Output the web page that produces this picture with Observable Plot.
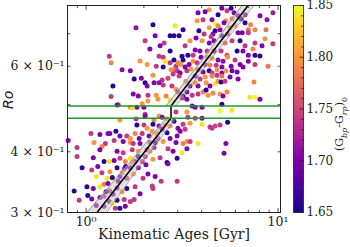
<!DOCTYPE html>
<html><head><meta charset="utf-8">
<script src="https://cdn.jsdelivr.net/npm/d3@7"></script>
<script src="https://cdn.jsdelivr.net/npm/@observablehq/plot@0.6"></script>
<style>
body{margin:0;background:#fff;}
#wrap{position:relative;width:350px;height:247px;overflow:hidden;}
#wrap svg{position:absolute;top:0;}
#cbtitle{position:absolute;left:341px;top:124px;transform:translate(-50%,-50%) rotate(-90deg);white-space:nowrap;font-family:"DejaVu Serif";font-size:11px;color:#222;}
#cbtitle sub{font-size:8px;}
</style></head><body><div id="wrap"><div id="cbtitle">(G<sub><i>bp</i></sub>-G<sub><i>rp</i></sub>)<sub>0</sub></div></div>
<script>
// Kinematic ages [Gyr]
const ages = [
4.38,5.10,5.42,5.70,6.19,6.73,8.05,8.76,9.40,3.83,
4.17,3.79,4.07,4.53,4.87,5.35,5.76,1.82,2.23,2.91,
3.20,3.87,4.12,4.70,4.38,4.99,5.62,5.97,6.73,7.20,
7.00,7.58,8.65,4.58,5.10,5.46,6.19,6.50,7.00,2.74,
2.87,3.05,2.55,4.02,4.38,4.64,5.29,5.76,6.34,6.73,
7.40,7.58,8.25,9.40,8.55,3.70,4.27,4.64,5.05,5.42,
6.12,6.57,7.00,7.58,8.05,1.32,2.40,2.52,2.58,2.74,
2.87,3.16,3.20,3.61,3.61,3.79,3.97,4.27,1.35,4.53,
4.87,5.17,5.46,5.97,6.34,7.00,7.58,8.87,2.08,2.32,
2.52,2.94,3.12,3.44,3.52,4.17,4.42,4.76,5.10,5.70,
6.57,1.54,2.77,2.87,2.98,3.09,3.35,3.83,4.07,4.38,
4.53,4.81,5.10,5.35,5.76,6.12,1.78,1.94,2.23,2.49,
2.67,2.84,3.05,3.31,3.70,4.17,4.53,4.81,5.10,5.62,
6.19,7.49,2.03,2.08,2.26,2.40,2.52,2.80,2.94,3.48,
3.83,4.22,4.42,4.70,4.87,5.05,5.29,1.38,1.35,1.76,
1.87,2.10,2.32,2.61,3.01,3.20,3.35,3.83,4.07,4.32,
4.58,4.99,4.22,5.17,5.42,7.14,7.58,8.05,1.47,2.74,
3.16,3.35,3.57,3.70,4.02,2.03,2.94,3.35,1.45,1.70,
1.84,2.00,1.74,1.96,2.10,2.37,3.57,5.10,4.99,5.76,
1.50,1.82,2.03,2.26,2.40,2.64,2.49,3.39,3.70,4.02,
5.46,4.02,3.01,3.20,3.48,4.42,4.53,4.70,4.99,1.84,
2.00,2.08,2.23,2.40,2.58,1.06,1.33,1.43,1.50,1.63,
1.70,1.80,1.89,1.96,2.13,2.34,2.64,3.20,3.35,3.48,
1.18,1.30,1.10,1.26,1.21,1.40,1.56,1.70,1.76,1.91,
2.15,2.52,2.74,2.98,3.83,5.35,5.23,3.35,3.16,0.806,
0.897,1.18,1.45,1.56,1.74,1.87,2.08,2.26,2.67,2.84,
0.897,1.09,1.32,1.40,1.50,1.60,1.70,1.80,2.03,2.23,
2.43,2.64,2.98,2.67,0.953,1.07,1.21,1.33,1.45,1.58,
1.70,1.87,2.10,1.29,1.38,1.50,1.63,1.76,1.98,2.29,
2.21,2.46,2.98,0.866,1.01,1.09,1.18,1.24,1.33,1.45,
1.54,1.63,1.80,1.91,2.23,0.92,1.02,1.07,1.18,1.24,
1.32,1.45,1.58,1.78,1.13,1.24,1.42,1.50,1.60,1.70,
1.37,1.30,1.37,1.47,1.54,1.61,1.74,1.87,1.96,2.05,
2.15,2.29,2.37,2.21,2.49,2.74,2.87,3.09,3.28,2.94,
1.24,1.15,1.13,1.27,1.38,3.28,3.48,3.74,3.39,3.92,
4.87,5.23,4.70,4.48,5.90,6.42,3.92,3.70,3.28,3.01,
2.74,2.43,2.15,2.03,2.29,1.91,1.70];
// Rossby numbers
const ros = [
0.784,0.79,0.78,0.79,0.762,0.766,0.762,0.748,0.773,0.773,
0.777,0.744,0.748,0.748,0.766,0.744,0.751,0.72,0.73,0.727,
0.713,0.71,0.699,0.734,0.72,0.713,0.72,0.727,0.737,0.73,
0.713,0.713,0.713,0.699,0.693,0.699,0.703,0.703,0.703,0.693,
0.693,0.693,0.67,0.677,0.67,0.677,0.67,0.677,0.677,0.661,
0.651,0.67,0.661,0.667,0.683,0.648,0.645,0.645,0.645,0.632,
0.645,0.645,0.632,0.632,0.63,0.629,0.629,0.626,0.614,0.61,
0.618,0.629,0.618,0.632,0.614,0.61,0.626,0.626,0.61,0.623,
0.618,0.614,0.626,0.618,0.605,0.614,0.605,0.60,0.605,0.60,
0.598,0.60,0.605,0.605,0.592,0.605,0.603,0.603,0.598,0.60,
0.598,0.59,0.59,0.59,0.587,0.581,0.587,0.59,0.584,0.587,
0.581,0.59,0.581,0.587,0.587,0.584,0.565,0.567,0.575,0.562,
0.567,0.578,0.573,0.559,0.573,0.57,0.573,0.575,0.573,0.57,
0.565,0.557,0.555,0.546,0.555,0.555,0.549,0.546,0.538,0.546,
0.546,0.555,0.546,0.552,0.559,0.557,0.559,0.546,0.52,0.526,
0.521,0.523,0.523,0.521,0.531,0.521,0.531,0.526,0.531,0.523,
0.528,0.526,0.536,0.521,0.531,0.518,0.518,0.513,0.50,0.511,
0.516,0.513,0.497,0.494,0.494,0.478,0.483,0.483,0.499,0.494,
0.494,0.494,0.492,0.502,0.509,0.513,0.523,0.501,0.485,0.487,
0.465,0.467,0.474,0.465,0.474,0.467,0.471,0.471,0.469,0.469,
0.46,0.456,0.447,0.456,0.458,0.45,0.447,0.452,0.454,0.454,
0.454,0.447,0.456,0.452,0.454,0.436,0.436,0.441,0.431,0.431,
0.426,0.436,0.426,0.436,0.431,0.436,0.438,0.416,0.42,0.42,
0.434,0.436,0.418,0.416,0.41,0.422,0.42,0.418,0.416,0.416,
0.418,0.42,0.426,0.431,0.416,0.416,0.397,0.406,0.398,0.422,
0.408,0.404,0.401,0.398,0.404,0.401,0.404,0.408,0.406,0.401,
0.391,0.389,0.382,0.384,0.388,0.382,0.388,0.382,0.391,0.386,
0.389,0.38,0.388,0.378,0.371,0.367,0.362,0.364,0.371,0.369,
0.371,0.371,0.36,0.353,0.352,0.356,0.353,0.36,0.353,0.356,
0.34,0.348,0.348,0.332,0.339,0.336,0.339,0.343,0.332,0.337,
0.331,0.336,0.339,0.328,0.336,0.318,0.325,0.32,0.322,0.324,
0.316,0.318,0.319,0.319,0.31,0.309,0.306,0.306,0.309,0.316,
0.313,0.344,0.354,0.348,0.362,0.373,0.38,0.391,0.382,0.376,
0.401,0.418,0.426,0.441,0.445,0.452,0.462,0.441,0.445,0.418,
0.382,0.373,0.356,0.331,0.327,0.661,0.677,0.686,0.632,0.645,
0.727,0.737,0.71,0.69,0.773,0.751,0.565,0.555,0.598,0.61,
0.645,0.661,0.651,0.677,0.693,0.615,0.587];
// (G_bp - G_rp)_0 colours
const colors = [
1.80,1.70,1.74,1.66,1.70,1.71,1.70,1.71,1.72,1.70,
1.69,1.80,1.74,1.70,1.66,1.80,1.79,1.71,1.66,1.84,
1.66,1.66,1.74,1.85,1.80,1.70,1.79,1.80,1.66,1.79,
1.78,1.79,1.78,1.71,1.69,1.74,1.70,1.70,1.74,1.66,
1.66,1.66,1.74,1.80,1.70,1.70,1.78,1.74,1.66,1.74,
1.79,1.74,1.70,1.74,1.80,1.70,1.74,1.71,1.74,1.75,
1.66,1.70,1.70,1.66,1.66,1.74,1.74,1.74,1.84,1.74,
1.66,1.66,1.66,1.74,1.80,1.74,1.70,1.79,1.79,1.80,
1.70,1.71,1.80,1.74,1.70,1.70,1.74,1.78,1.80,1.74,
1.66,1.74,1.80,1.70,1.80,1.74,1.79,1.74,1.70,1.70,
1.70,1.71,1.80,1.79,1.74,1.70,1.74,1.75,1.70,1.66,
1.74,1.80,1.70,1.80,1.69,1.70,1.66,1.70,1.80,1.74,
1.75,1.74,1.74,1.79,1.70,1.80,1.79,1.74,1.78,1.70,
1.70,1.79,1.66,1.70,1.70,1.71,1.74,1.74,1.80,1.70,
1.70,1.80,1.70,1.84,1.80,1.66,1.74,1.66,1.74,1.70,
1.70,1.74,1.80,1.79,1.74,1.66,1.70,1.74,1.79,1.80,
1.79,1.80,1.66,1.70,1.79,1.84,1.85,1.70,1.74,1.84,
1.74,1.70,1.70,1.70,1.70,1.74,1.74,1.80,1.70,1.80,
1.70,1.70,1.84,1.80,1.80,1.80,1.74,1.66,1.85,1.84,
1.80,1.74,1.70,1.79,1.80,1.79,1.70,1.74,1.74,1.70,
1.66,1.84,1.70,1.74,1.80,1.74,1.74,1.75,1.74,1.66,
1.74,1.80,1.66,1.70,1.80,1.74,1.70,1.66,1.70,1.74,
1.80,1.79,1.70,1.74,1.70,1.79,1.66,1.79,1.80,1.74,
1.70,1.70,1.80,1.74,1.79,1.74,1.70,1.80,1.74,1.70,
1.74,1.80,1.70,1.70,1.84,1.70,1.70,1.70,1.84,1.70,
1.74,1.70,1.70,1.74,1.74,1.80,1.70,1.74,1.74,1.70,
1.74,1.70,1.84,1.70,1.74,1.79,1.84,1.70,1.74,1.80,
1.74,1.66,1.66,1.70,1.66,1.74,1.74,1.80,1.66,1.74,
1.70,1.70,1.70,1.84,1.85,1.70,1.74,1.80,1.74,1.70,
1.74,1.74,1.74,1.66,1.66,1.70,1.84,1.79,1.74,1.70,
1.80,1.66,1.74,1.70,1.74,1.74,1.66,1.70,1.70,1.74,
1.70,1.66,1.74,1.74,1.70,1.70,1.74,1.66,1.70,1.74,
1.84,1.70,1.66,1.70,1.79,1.66,1.80,1.66,1.74,1.70,
1.80,1.66,1.74,1.80,1.70,1.79,1.66,1.70,1.74,1.70,
1.66,1.70,1.84,1.66,1.70,1.74,1.80,1.70,1.66,1.70,
1.79,1.70,1.66,1.74,1.70,1.66,1.74,1.80,1.70,1.79,
1.66,1.70,1.70,1.74,1.70,1.80,1.70];

// broken power-law fit (with jump) and its uncertainty band
const fitAges = [1.14, 2.77, 2.77, 6.98];
const fitRo   = [0.30, 0.469, 0.497, 0.80];
const bandRoLow    = [0.30, 0.38, 0.469];
const bandLeftLow  = [1.01, 1.69, 2.61];
const bandRightLow = [1.28, 1.96, 2.94];
const bandRoHigh    = [0.497, 0.62, 0.80];
const bandLeftHigh  = [2.61, 4.05, 6.49];
const bandRightHigh = [2.94, 4.46, 7.50];
const greenRo = [0.469, 0.497];

// ticks
const xTicks = [1, 10];
const xTickLabels = ["10⁰", "10¹"];
const xMinor = [0.8, 0.9, 2, 3, 4, 5, 6, 7, 8, 9];
const yTicks = [0.3, 0.4, 0.6];
const yTickLabels = ["3 × 10⁻¹", "4 × 10⁻¹", "6 × 10⁻¹"];
const yAllTicks = [0.3, 0.4, 0.5, 0.6, 0.7, 0.8];
const cbTicks = [1.65, 1.70, 1.75, 1.80, 1.85];
const cbMinor = [1.66,1.67,1.68,1.69,1.71,1.72,1.73,1.74,1.76,1.77,1.78,1.79,1.81,1.82,1.83,1.84];

const stars = ages.map((a, i) => ({age: a, ro: ros[i], c: colors[i]}));
const fit = fitAges.map((a, i) => ({age: a, ro: fitRo[i]}));
const bandLow = bandRoLow.map((r, i) => ({ro: r, l: bandLeftLow[i], r: bandRightLow[i]}));
const bandHigh = bandRoHigh.map((r, i) => ({ro: r, l: bandLeftHigh[i], r: bandRightHigh[i]}));

const inTick = {draw(ctx, l) { ctx.moveTo(0, 0); ctx.lineTo(0, -l); }};
const tickColor = "#222";
function ticks(data, side, len, chan) {
  const rot = {bottom: 0, top: 180, left: 90, right: -90}[side];
  const o = {frameAnchor: side, length: len, rotate: rot, anchor: "start", shape: inTick, stroke: tickColor, strokeWidth: 0.8};
  o[chan] = d => d;
  return Plot.vector(data, o);
}

const color = {type: "linear", scheme: "plasma", domain: [1.65, 1.85], clamp: true};

const main = Plot.plot({
  width: 350, height: 247,
  marginLeft: 67, marginRight: 70, marginTop: 5, marginBottom: 35,
  x: {type: "log", domain: [0.8, 10.3]},
  y: {type: "log", domain: [0.3, 0.8]},
  color,
  style: {fontFamily: "DejaVu Serif", fontSize: "12px", color: "#222", background: "#fff"},
  marks: [
    Plot.dot(stars, {x: "age", y: "ro", fill: "c", r: 2.5}),
    Plot.areaX(bandLow, {y: "ro", x1: "l", x2: "r", fill: "#c4c4c4", fillOpacity: 0.5}),
    Plot.areaX(bandHigh, {y: "ro", x1: "l", x2: "r", fill: "#c4c4c4", fillOpacity: 0.5}),
    Plot.line(bandLow, {x: "l", y: "ro", stroke: "#8a8a8a", strokeWidth: 0.8}),
    Plot.line(bandLow, {x: "r", y: "ro", stroke: "#8a8a8a", strokeWidth: 0.8}),
    Plot.line(bandHigh, {x: "l", y: "ro", stroke: "#8a8a8a", strokeWidth: 0.8}),
    Plot.line(bandHigh, {x: "r", y: "ro", stroke: "#8a8a8a", strokeWidth: 0.8}),
    Plot.line(fit, {x: "age", y: "ro", stroke: "black", strokeWidth: 1.5}),
    Plot.ruleY(greenRo, {stroke: "#1f9a2a", strokeWidth: 1.6}),
    Plot.frame({stroke: "#222", strokeWidth: 1}),
    ticks(xTicks, "bottom", 4, "x"), ticks(xTicks, "top", 4, "x"),
    ticks(xMinor, "bottom", 2.2, "x"), ticks(xMinor, "top", 2.2, "x"),
    ticks(yAllTicks, "left", 2.5, "y"), ticks(yAllTicks, "right", 2.5, "y"),
    Plot.axisX(xTicks, {tickSize: 0, tickPadding: 5, label: null, fontSize: 12.5,
      tickFormat: d => xTickLabels[xTicks.indexOf(d)]}),
    Plot.axisY(yTicks, {tickSize: 0, tickPadding: 3, label: null, fontSize: 12.5,
      tickFormat: d => yTickLabels[yTicks.indexOf(d)]}),
    Plot.text(["Kinematic Ages [Gyr]"], {frameAnchor: "bottom", dy: 26, text: d => d, fontSize: 14, fill: "#222"}),
    Plot.text(["Ro"], {frameAnchor: "left", dx: -59, rotate: -90, text: d => d, fontSize: 14,
      fontStyle: "italic", fontFamily: "DejaVu Sans", fill: "#222"})
  ]
});
main.style.left = "0px";

const cb = Plot.plot({
  width: 70, height: 247,
  marginLeft: 13, marginRight: 47, marginTop: 5, marginBottom: 35,
  x: {domain: [0, 1], axis: null},
  y: {domain: [1.65, 1.85], axis: null},
  color,
  style: {fontFamily: "DejaVu Serif", fontSize: "12px", color: "#222", background: "transparent", overflow: "visible"},
  marks: [
    Plot.raster({fill: (x, y) => y, x1: 0, x2: 1, y1: 1.65, y2: 1.85, width: 2, height: 207, imageRendering: "auto"}),
    Plot.frame({stroke: "#222", strokeWidth: 0.8}),
    ticks(cbTicks, "right", 3.5, "y"),
    ticks(cbMinor, "right", 2, "y"),
    Plot.axisY(cbTicks, {anchor: "right", tickSize: 0, tickPadding: 3, label: null, fontSize: 12,
      tickFormat: d => d.toFixed(2)})
  ]
});
cb.style.left = "280px";

const wrap = document.getElementById("wrap");
wrap.insertBefore(main, wrap.firstChild);
wrap.insertBefore(cb, document.getElementById("cbtitle"));
</script></body></html>
